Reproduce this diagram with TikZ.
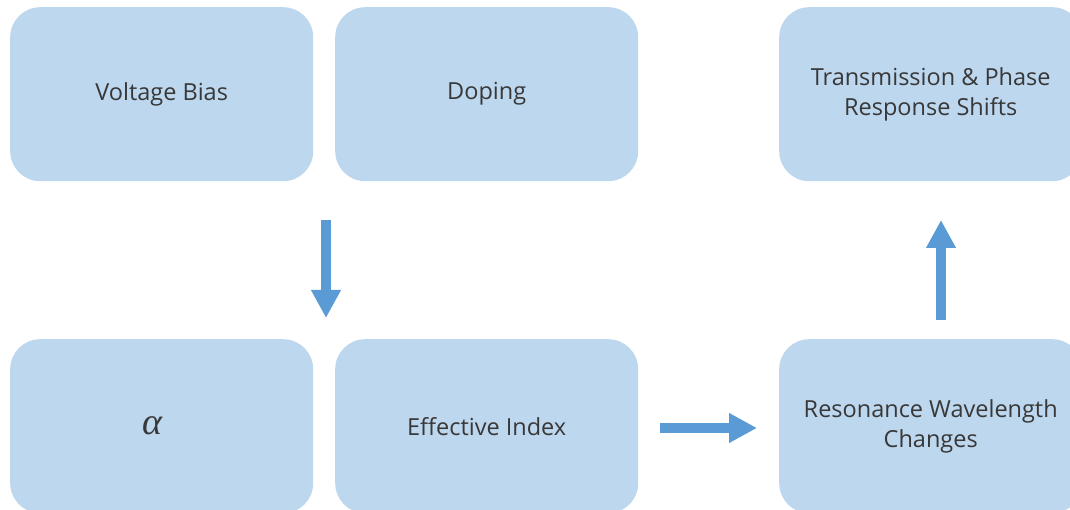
\documentclass[tikz,border=0pt]{standalone}
\usepackage{fontspec}
\setmainfont{Open Sans}
\newfontfamily\grk{Liberation Serif}
\usetikzlibrary{arrows.meta}
\definecolor{boxfill}{HTML}{BDD7EE}
\definecolor{arrowcol}{HTML}{5B9BD5}
\definecolor{txt}{HTML}{383838}
\begin{document}
\begin{tikzpicture}[x=1pt,y=-1pt,
  box/.style={fill=boxfill,draw=none,rounded corners=30pt,minimum width=303pt,minimum height=174pt,inner sep=0pt,text=txt,font=\fontsize{23.5}{30}\selectfont,align=center,anchor=north west},
  flow/.style={draw=arrowcol,line width=10pt,-{Triangle[length=28pt,width=28pt]}}]
\useasboundingbox (0,0) rectangle (1070,510);
\clip (0,0) rectangle (1070,510);
\node[box] (vb) at (10,7) {\raisebox{-3pt}{Voltage Bias}};
\node[box] (dp) at (335,7) {\raisebox{-3pt}{Doping}};
\node[box] (tp) at (779,7) {Transmission \& Phase\\Response Shifts};
\node[box] (al) at (10,339) {\raisebox{-5pt}{\hspace*{-18pt}\grk\itshape\fontsize{38}{38}\selectfont α}};
\node[box] (ei) at (335,339) {Effective Index};
\node[box] (rw) at (779,339) {Resonance Wavelength\\Changes};
\coordinate (d1) at (326,220);
\coordinate (d2) at (326,318);
\coordinate (r1) at (660,428);
\coordinate (r2) at (757,428);
\coordinate (u1) at (941,320);
\coordinate (u2) at (941,220);
\draw[flow] (d1) -- (d2);
\draw[flow] (r1) -- (r2);
\draw[flow] (u1) -- (u2);
\end{tikzpicture}
\end{document}
